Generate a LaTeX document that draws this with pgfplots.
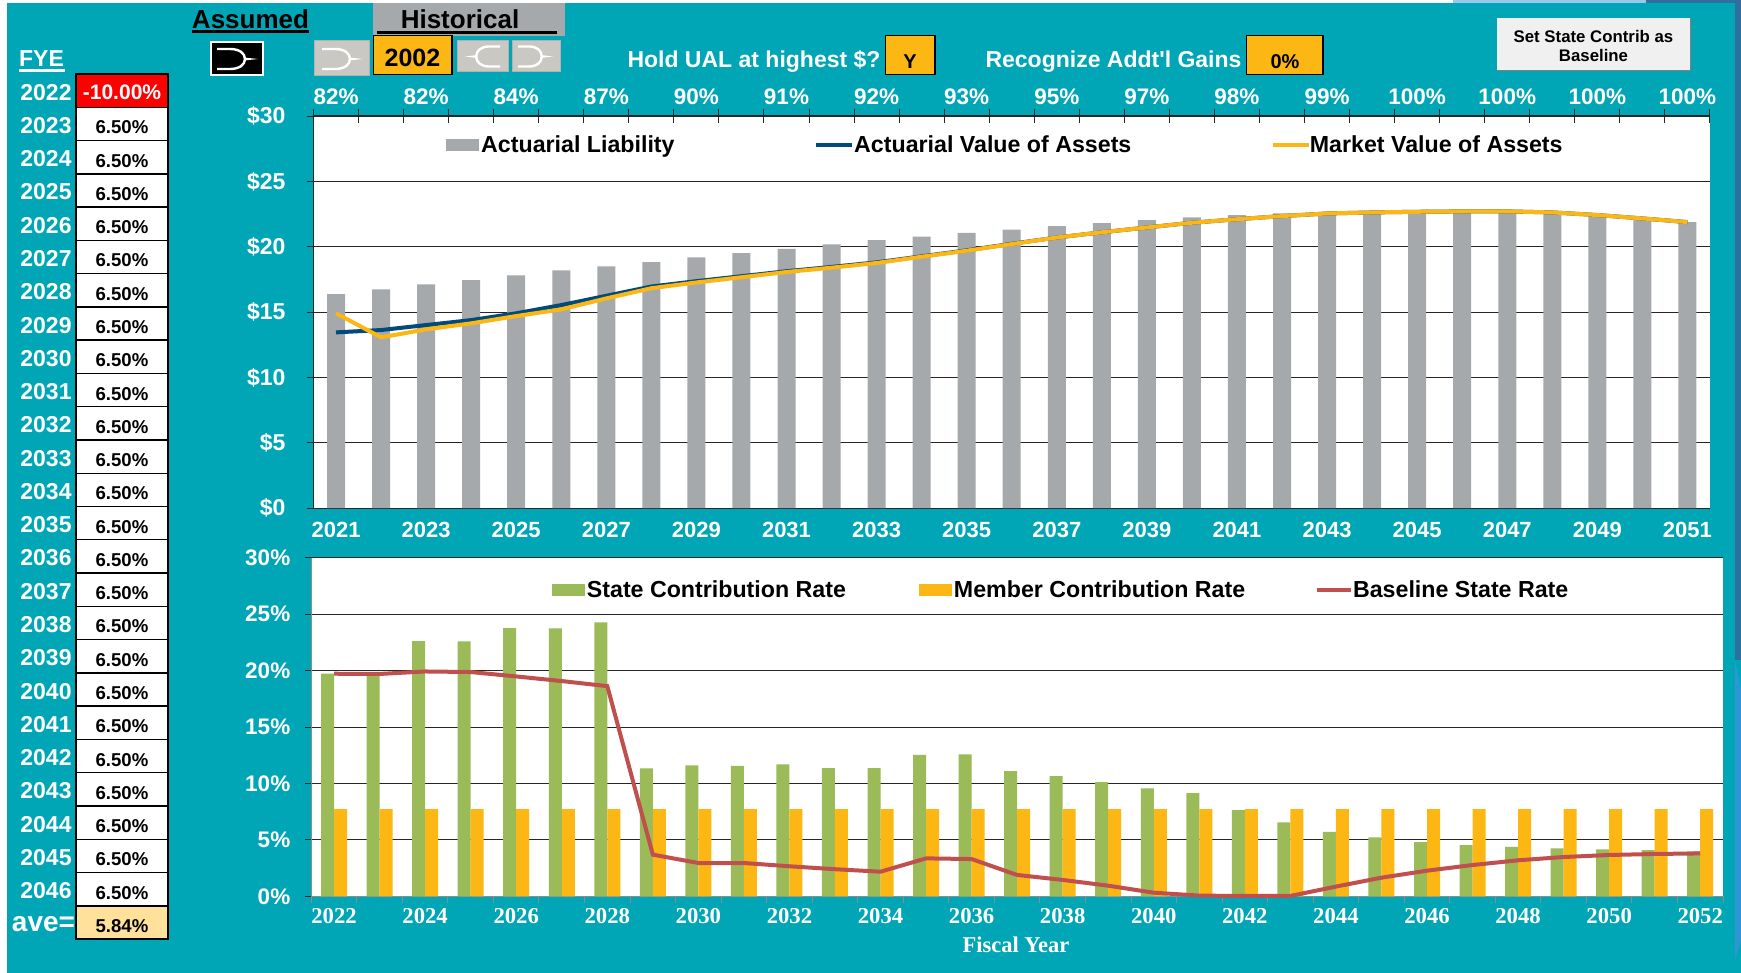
\documentclass[border=0pt]{standalone}
\usepackage{fontspec}
\setmainfont{Liberation Sans}
\newfontfamily\tnr{Liberation Serif}
\usepackage{pgfplots}
\pgfplotsset{compat=1.18}
\definecolor{teal1}{HTML}{00A6B6}
\definecolor{bar1}{HTML}{A5A9AC}
\definecolor{ava}{HTML}{004B7A}
\definecolor{org}{HTML}{FDB714}
\definecolor{grn}{HTML}{9BBB59}
\definecolor{red1}{HTML}{C0504D}
\definecolor{btn}{HTML}{C9C8C2}
\definecolor{blueA}{HTML}{2E6F9E}
\definecolor{blueB}{HTML}{2F96D4}
\definecolor{avecell}{HTML}{FFE19B}
\newcommand\fs[1]{\fontsize{#1}{#1}\selectfont\bfseries}
\newcommand\gate[4]{% x y xscale color
 \begin{scope}[shift={(#1,#2)},xscale=#3]
  \draw[#4,line width=2.4pt] (-20,-10)--(-7,-10) .. controls (2,-10) and (8,-6) .. (8,0) .. controls (8,6) and (2,10) .. (-7,10)--(-20,10);
  \fill[#4] (7,-1.5)--(21,0)--(7,1.5)--cycle;
 \end{scope}}
\begin{document}
\begin{tikzpicture}
\begin{scope}[x=1pt,y=-1pt]
\path[use as bounding box,fill=white] (0,0) rectangle (1741,973);
\fill[teal1] (7,3) rectangle (1741,973);
\fill[blueA] (1735,3) rectangle (1741,660);
\fill[blueB] (1735,660) -- (1741,690) -- (1741,940) -- (1735,960) -- cycle;
\fill[blueA] (1646,0) rectangle (1741,3);
\fill[blueB!50!white] (1453,0) rectangle (1646,3);
% header
\node[anchor=mid,text=black] at (250.5,25.5) {\fs{26}Assumed};
\fill[black] (192,30.5) rectangle (309,33.5);
\fill[bar1] (373,3) rectangle (565,36);
\node[anchor=mid,text=black] at (460,25.5) {\fs{26}Historical};
\fill[black] (377,31) rectangle (557,34);
\filldraw[fill=black,draw=white,line width=2pt] (211,42) rectangle (263,75);
\gate{237}{59}{1}{white}
\filldraw[fill=btn,draw=black!30,line width=1pt] (314.5,40.5) rectangle (369.5,75.5);
\gate{342}{59}{1}{white}
\filldraw[fill=org,draw=black,line width=1.2pt] (373.5,35.5) rectangle (452,74.5);
\node[anchor=mid] at (412.5,63.5) {\fs{25}2002};
\filldraw[fill=btn,draw=black!30,line width=1pt] (457,41) rectangle (508.5,71.5);
\gate{483}{56.5}{-0.85}{white}
\filldraw[fill=btn,draw=black!30,line width=1pt] (512,41) rectangle (560,71.5);
\gate{535}{56.5}{0.85}{white}
\node[anchor=mid,text=white] at (754,64.5) {\fs{23}Hold UAL at highest \$?};
\filldraw[fill=org,draw=black,line width=1.2pt] (885.5,35.5) rectangle (935,74.5);
\node[anchor=mid] at (910,65.5) {\fs{20}Y};
\node[anchor=mid,text=white] at (1113.5,64.5) {\fs{23}Recognize Addt\textquotesingle l Gains};
\filldraw[fill=org,draw=black,line width=1.2pt] (1246.5,35.5) rectangle (1323,74.5);
\node[anchor=mid] at (1285,65.5) {\fs{20}0\%};
% button
\fill[black!50] (1497,18) rectangle (1691,71);
\fill[black!6] (1497,18) rectangle (1690,70);
\node[anchor=mid] at (1593.5,39.5) {\fs{16.8}Set State Contrib as};
\node[anchor=mid] at (1593.5,58.5) {\fs{16.8}Baseline};
% table
\node[anchor=mid,text=white] at (41.5,64) {\fs{23}FYE};
\fill[white] (19,69.5) rectangle (65,72);
\foreach \yr [count=\i from 0] in {2022,2023,2024,2025,2026,2027,2028,2029,2030,2031,2032,2033,2034,2035,2036,2037,2038,2039,2040,2041,2042,2043,2044,2045,2046}{
  \pgfmathsetmacro\ya{74+33.27*\i}
  \pgfmathsetmacro\yb{\ya+33.27}
  \pgfmathsetmacro\yc{\ya+23.5}
  \pgfmathsetmacro\yd{\ya+24}
  \filldraw[fill=white,draw=black,line width=1.4pt] (76,\ya) rectangle (168,\yb);
  \node[anchor=mid,text=white] at (46,\yc) {\fs{23}\yr};
  \ifnum\i>0 \node[anchor=mid] at (122,\yd) {\fs{18.6}6.50\%};\fi
}
\filldraw[fill=red,draw=black,line width=1.4pt] (76,74) rectangle (168,107.3);
\node[anchor=mid,text=white] at (122,97) {\fs{21}-10.00\%};
\filldraw[fill=avecell,draw=black,line width=1.4pt] (76,906) rectangle (168,939);
\node[anchor=mid] at (122,930) {\fs{18.6}5.84\%};
\node[anchor=mid,text=white] at (43.5,928.5) {\fs{28}ave=};
\node[anchor=mid,text=white] at (1016,949.5) {\fs{22.5}\tnr Fiscal Year};
\end{scope}
%%%%%%%% top chart
\begin{axis}[
 at={(313.5pt,-508pt)},anchor=south west,scale only axis,width=1396.5pt,height=392pt,
 axis background/.style={fill=white},
 xmin=-0.5,xmax=30.5,ymin=0,ymax=30,clip=false,
 axis x line*=bottom,axis y line*=left,
 axis line style={black!85,line width=1pt},
 xtick={0,2,...,30},
 xticklabels={2021,2023,2025,2027,2029,2031,2033,2035,2037,2039,2041,2043,2045,2047,2049,2051},
 major x tick style={draw=none},
 ytick={0,5,10,15,20,25,30},
 yticklabels={\$0,\$5,\$10,\$15,\$20,\$25,\$30},
 ymajorgrids,grid style={black!85,line width=1pt},
 tick align=outside,major tick length=6.5pt,
 y tick style={black!85,line width=1pt},
 tick label style={font=\fs{23},text=white},
 xticklabel style={font=\fs{22},yshift=-4pt},
 yticklabel style={xshift=-18pt},
 legend columns=3,
 legend style={at={(0.0949,0.926)},anchor=west,draw=none,fill=none,inner sep=0pt,
   font=\fs{23.2},text=black,
   /tikz/column 2/.style={column sep=137.8pt},
   /tikz/column 4/.style={column sep=137.8pt}},
 legend cell align=left,
]
\addplot[ybar,bar width=18pt,fill=bar1,draw=none,
 legend image code/.code={\fill[bar1] (0pt,-6pt) rectangle (33pt,6pt);}] table {
x y
0 16.37
1 16.73
2 17.11
3 17.44
4 17.80
5 18.18
6 18.50
7 18.82
8 19.18
9 19.50
10 19.84
11 20.17
12 20.50
13 20.76
14 21.06
15 21.30
16 21.57
17 21.80
18 22.03
19 22.24
20 22.42
21 22.54
22 22.60
23 22.62
24 22.65
25 22.68
26 22.66
27 22.54
28 22.38
29 22.16
30 21.88
};
\addlegendentry{Actuarial Liability}
\addplot[ava,line width=4pt,
 legend image code/.code={\draw[overlay,ava,line width=4pt] (0pt,0pt)--(36pt,0pt);\path (0pt,0pt)--(33.8pt,0pt);}] table {
x y
0 13.44
1 13.62
2 14.00
3 14.38
4 14.90
5 15.53
6 16.24
7 16.95
8 17.36
9 17.74
10 18.12
11 18.45
12 18.80
13 19.26
14 19.72
15 20.22
16 20.70
17 21.10
18 21.47
19 21.83
20 22.10
21 22.34
22 22.54
23 22.62
24 22.67
25 22.70
26 22.70
27 22.62
28 22.42
29 22.16
30 21.88
};
\addlegendentry{Actuarial Value of Assets}
\addplot[org,line width=4pt,
 legend image code/.code={\draw[overlay,org,line width=4pt] (0pt,0pt)--(36pt,0pt);\path (0pt,0pt)--(32.7pt,0pt);}] table {
x y
0 14.90
1 13.06
2 13.67
3 14.13
4 14.69
5 15.20
6 16.04
7 16.82
8 17.26
9 17.66
10 18.06
11 18.39
12 18.75
13 19.23
14 19.69
15 20.20
16 20.70
17 21.10
18 21.47
19 21.83
20 22.10
21 22.34
22 22.54
23 22.62
24 22.67
25 22.70
26 22.70
27 22.62
28 22.42
29 22.16
30 21.88
};
\addlegendentry{Market Value of Assets}
\end{axis}
\begin{axis}[
 at={(313.5pt,-508pt)},anchor=south west,scale only axis,width=1396.5pt,height=392pt,
 xmin=-0.5,xmax=30.5,ymin=0,ymax=30,
 axis x line*=top,axis y line=none,
 axis line style={black!85,line width=1.6pt},
 xtick={0,2,...,30},
 xticklabels={82\%,82\%,84\%,87\%,90\%,91\%,92\%,93\%,95\%,97\%,98\%,99\%,100\%,100\%,100\%,100\%},
 xticklabel pos=top,
 major x tick style={draw=none},
 minor xtick={-0.5,0.5,...,30.5},
 minor tick length=13pt,tick align=center,
 minor x tick style={black!85,line width=1pt},
 tick label style={font=\fs{22.5},text=white},
 xticklabel style={yshift=5.5pt},
]
\addplot[draw=none,forget plot] coordinates {(0,0)};
\end{axis}
%%%%%%%% bottom chart
\begin{axis}[
 at={(311.3pt,-896.3pt)},anchor=south west,scale only axis,width=1411.7pt,height=338.6pt,
 axis background/.style={fill=white},
 xmin=-0.5,xmax=30.5,ymin=0,ymax=30,clip=false,
 axis x line*=bottom,axis y line*=left,
 axis line style={black!45,line width=1pt},
 xtick={0,2,...,30},
 xticklabels={2022,2024,2026,2028,2030,2032,2034,2036,2038,2040,2042,2044,2046,2048,2050,2052},
 major x tick style={draw=none},
 minor xtick={-0.5,0.5,...,30.5},
 minor x tick style={black!45,line width=1pt},
 ytick={0,5,10,15,20,25,30},
 yticklabels={0\%,5\%,10\%,15\%,20\%,25\%,30\%},
 ymajorgrids,grid style={black!85,line width=1pt},
 tick align=outside,major tick length=6.5pt,minor tick length=6.5pt,
 y tick style={black!85,line width=1pt},
 tick label style={font=\fs{22.5},text=white},
 xticklabel style={font=\fs{22.7}\tnr,yshift=-2pt},
 yticklabel style={xshift=-11pt},
 legend columns=3,
 legend style={at={(0.1703,0.905)},anchor=west,draw=none,fill=none,inner sep=0pt,
   font=\fs{23.2},text=black,
   /tikz/column 2/.style={column sep=71pt},
   /tikz/column 4/.style={column sep=67.8pt}},
 legend cell align=left,
]
\addplot[ybar,bar width=13pt,bar shift=-6.5pt,fill=grn,draw=none,
 legend image code/.code={\fill[grn] (0pt,-6pt) rectangle (33pt,6pt);}] table {
x y
0 19.72
1 19.70
2 22.60
3 22.58
4 23.76
5 23.73
6 24.26
7 11.34
8 11.60
9 11.55
10 11.69
11 11.36
12 11.36
13 12.52
14 12.57
15 11.10
16 10.65
17 10.12
18 9.56
19 9.15
20 7.64
21 6.55
22 5.70
23 5.22
24 4.80
25 4.53
26 4.37
27 4.25
28 4.16
29 4.10
30 3.98
};
\addlegendentry{State Contribution Rate}
\addplot[ybar,bar width=13pt,bar shift=6.5pt,fill=org,draw=none,
 legend image code/.code={\fill[org] (0pt,-6pt) rectangle (33pt,6pt);}] table {
x y
0 7.73
1 7.73
2 7.73
3 7.73
4 7.73
5 7.73
6 7.73
7 7.73
8 7.73
9 7.73
10 7.73
11 7.73
12 7.73
13 7.73
14 7.73
15 7.73
16 7.73
17 7.73
18 7.73
19 7.73
20 7.73
21 7.73
22 7.73
23 7.73
24 7.73
25 7.73
26 7.73
27 7.73
28 7.73
29 7.73
30 7.73
};
\addlegendentry{Member Contribution Rate}
\addplot[red1,line width=4pt,
 legend image code/.code={\draw[overlay,red1,line width=4pt] (0pt,0pt)--(34pt,0pt);\path (0pt,0pt)--(32pt,0pt);}] table {
x y
0 19.72
1 19.70
2 19.92
3 19.87
4 19.48
5 19.07
6 18.62
7 3.69
8 2.95
9 2.95
10 2.66
11 2.40
12 2.18
13 3.36
14 3.30
15 1.89
16 1.45
17 0.94
18 0.32
19 0.06
20 0.03
21 0.03
22 0.86
23 1.65
24 2.27
25 2.77
26 3.19
27 3.48
28 3.66
29 3.75
30 3.80
};
\addlegendentry{Baseline State Rate}
\end{axis}
\end{tikzpicture}
\end{document}
